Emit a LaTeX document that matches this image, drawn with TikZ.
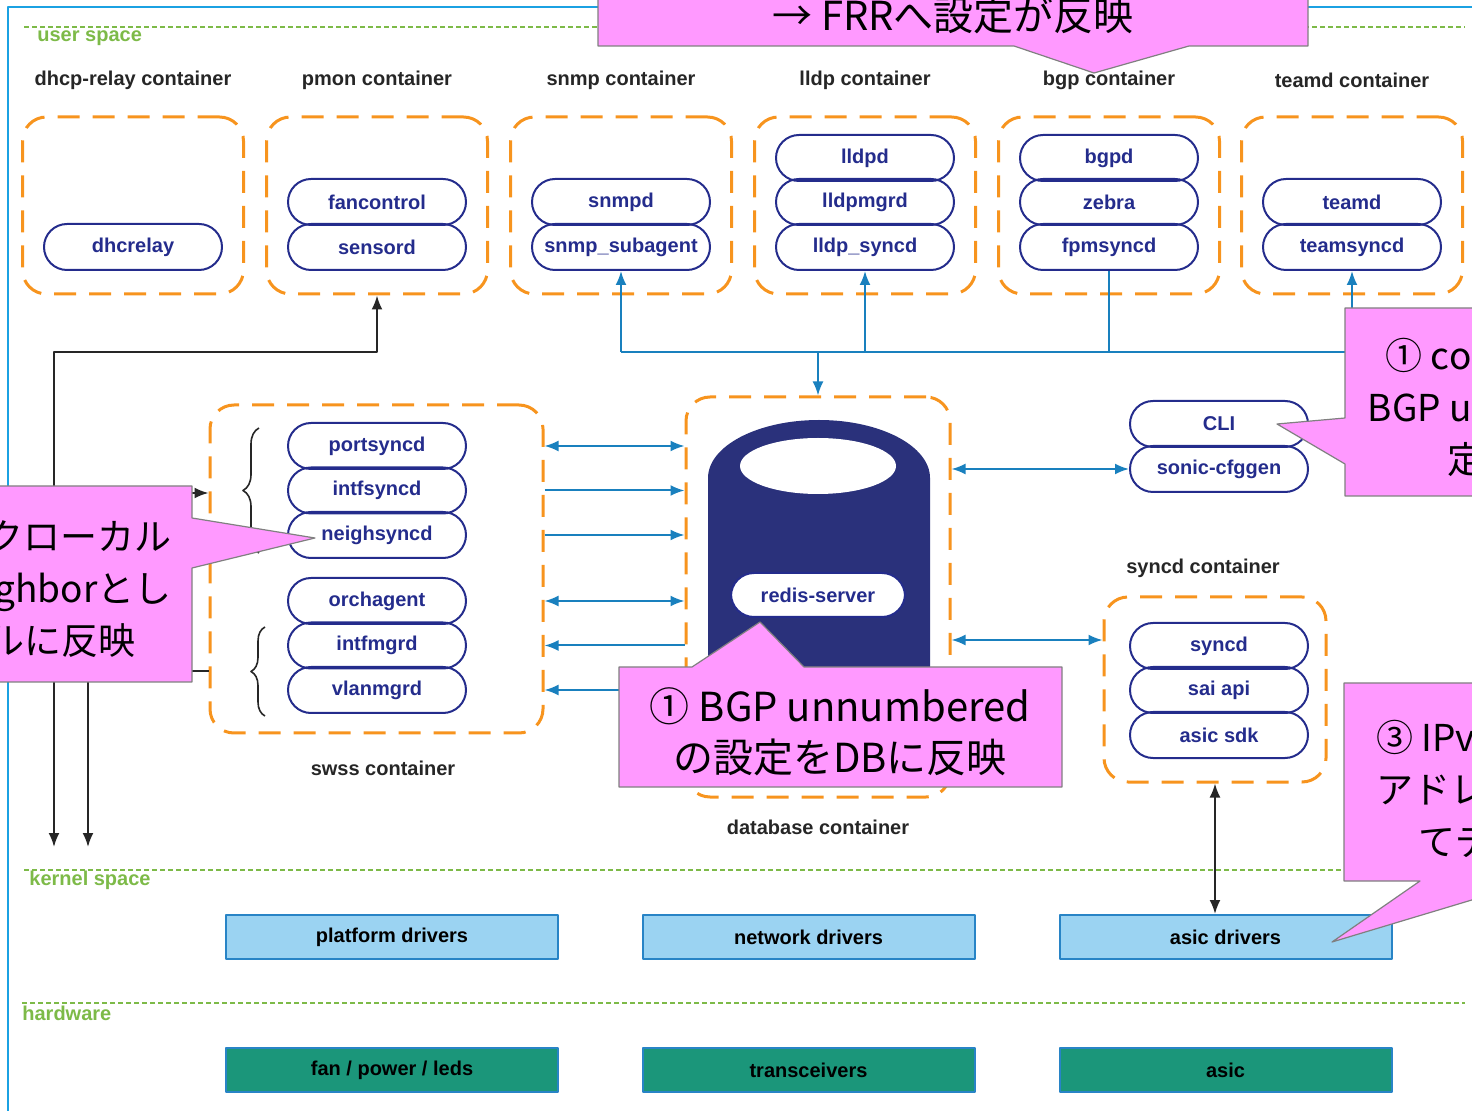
\documentclass[tikz,border=0pt]{standalone}
\usepackage{fontspec}
\setmainfont{Liberation Sans}
\newfontfamily\jpfont{Noto Sans CJK JP}
\usetikzlibrary{arrows.meta,decorations.pathreplacing}
\definecolor{frameblue}{RGB}{27,161,226}
\definecolor{layergreen}{RGB}{125,186,72}
\definecolor{boxorange}{RGB}{247,148,30}
\definecolor{pillnavy}{RGB}{36,44,140}
\definecolor{dbnavy}{RGB}{42,49,123}
\definecolor{linkblue}{RGB}{25,128,190}
\definecolor{drvfill}{RGB}{155,211,242}
\definecolor{drvline}{RGB}{40,132,198}
\definecolor{hwfill}{RGB}{27,150,122}
\definecolor{notepink}{RGB}{255,153,255}
\begin{document}
\begin{tikzpicture}[line join = round,>={Latex[length=7pt,width=5.5pt]},x = 0.5pt,y = -0.5pt,
	pill/.style={draw=pillnavy,line width=1pt,rounded corners=11.5pt,minimum width=89pt,minimum height=23pt,inner sep=0pt,text=pillnavy,font=\bfseries},
	cbox/.style={draw=boxorange,line width=1.5pt,dash pattern=on 11pt off 6.5pt,rounded corners=12pt},
	ctitle/.style={text=black!85,font=\bfseries},
	layer/.style={draw=layergreen,line width=1pt,dash pattern=on 2.5pt off 1.5pt},
	layertext/.style={text=layergreen,font=\bfseries,anchor=west,inner sep=0pt},
	drv/.style={draw=drvline,fill=drvfill,line width=1pt,minimum width=166pt,minimum height=22pt,font=\bfseries},
	hw/.style={draw=drvline,fill=hwfill,line width=1pt,minimum width=166pt,minimum height=22pt,font=\bfseries},
	link/.style={linkblue,line width=1pt},
	wire/.style={black!85,line width=1pt},
	callout/.style={fill=notepink,draw=black!50,line width=0.6pt},
	notetext/.style={font=\jpfont\fontsize{18.5}{26}\selectfont,align=center},
	bignote/.style={font=\jpfont\fontsize{20}{25.5}\selectfont,align=center}]
	\useasboundingbox (0,0) rectangle (1472,1111);
	\clip (0,0) rectangle (1472,1111);
	%Khung ngoài
	\draw[frameblue,line width=1pt] (8,1130)--(8,7)--(1500,7);
	%Các tầng
	\draw[layer] (24,27)--(1465,27);
	\node[layertext] (luser) at (37,38) {user space};
	\draw[layer] (24,870)--(1465,870);
	\node[layertext] (lkernel) at (29,880) {kernel space};
	\draw[layer] (22,1003)--(1465,1003);
	\node[layertext] (lhw) at (22,1013) {hardware};
	%Hàng container trên
	\foreach \cx/\nm/\ten in {133/dhcp/dhcp-relay container,377/pmon/pmon container,621/snmp/snmp container,865/lldp/lldp container,1109/bgp/bgp container,1352/teamd/teamd container}
	{\node[ctitle] (t\nm) at (\cx,80) {\ten};
	\node[cbox,minimum width=110.5pt,minimum height=88.5pt] (\nm) at (\cx,205.5) {};}
	\node[pill] (dhcrelay) at (133,247) {dhcrelay};
	\node[pill] (fancontrol) at (377,202) {fancontrol};
	\node[pill] (sensord) at (377,247) {sensord};
	\node[pill] (snmpd) at (621,202) {snmpd};
	\node[pill] (subagent) at (621,247) {snmp\_subagent};
	\node[pill] (lldpd) at (865,158) {lldpd};
	\node[pill] (lldpmgrd) at (865,202) {lldpmgrd};
	\node[pill] (lldpsyncd) at (865,247) {lldp\_syncd};
	\node[pill] (bgpd) at (1109,158) {bgpd};
	\node[pill] (zebra) at (1109,202) {zebra};
	\node[pill] (fpmsyncd) at (1109,247) {fpmsyncd};
	\node[pill] (teamdd) at (1352,202) {teamd};
	\node[pill] (teamsyncd) at (1352,247) {teamsyncd};
	%swss container
	\node[cbox,minimum width=166.5pt,minimum height=164pt] (swss) at (376.5,569) {};
	\node[ctitle] (tswss) at (383,768) {swss container};
	\foreach \y/\nm in {446/portsyncd,490.5/intfsyncd,535/neighsyncd,601/orchagent,645.5/intfmgrd,690/vlanmgrd}
	\node[pill] (\nm) at (377,\y) {\nm};
	\draw[wire,line width=0.8pt,decorate,decoration={brace,amplitude=8pt}] (259,553)--(259,428);
	\draw[wire,line width=0.8pt,decorate,decoration={brace,amplitude=7pt}] (265,716)--(265,627);
	%database container
	\node[cbox,minimum width=132pt,minimum height=200pt] (db) at (818,597) {};
	\node[ctitle] (tdb) at (818,827) {database container};
	\fill[dbnavy] (708,755)--(708,478) arc[start angle=180,end angle=0,x radius=55.5pt,y radius=29pt]--(930,755) arc[start angle=0,end angle=-180,x radius=55.5pt,y radius=10pt]--cycle;
	\fill[white] (818,466) ellipse[x radius=39pt,y radius=14pt];
	\node[pill,fill=white,minimum width=87pt,minimum height=22pt] (redis) at (818,595) {redis-server};
	%CLI
	\node[pill] (cli) at (1219,424) {CLI};
	\node[pill] (cfggen) at (1219,469) {sonic-cfggen};
	%syncd container
	\node[ctitle] (tsyncd) at (1203,568) {syncd container};
	\node[cbox,minimum width=111pt,minimum height=92.5pt] (syncdbox) at (1215,689.5) {};
	\node[pill] (syncd) at (1219,646) {syncd};
	\node[pill] (saiapi) at (1219,690) {sai api};
	\node[pill] (asicsdk) at (1219,735) {asic sdk};
	%kernel, hardware
	\foreach \x/\nm/\ten in {392/pdrv/platform drivers,808.5/ndrv/network drivers,1225.5/adrv/asic drivers}
	\node[drv] (\nm) at (\x,937) {\ten};
	\node[hw] (fan) at (392,1070) {fan / power / leds};
	\node[hw] (xcvr) at (808.5,1070) {transceivers};
	\node[hw] (asic) at (1225.5,1070) {asic};
	%Đường nối xanh
	\coordinate (bus) at (818,352);
	\draw[link] (subagent.south |- bus)--(teamsyncd.south |- bus);
	\draw[link,->] (subagent.south |- bus)--(subagent.south);
	\draw[link,->] (lldpsyncd.south |- bus)--(lldpsyncd.south);
	\draw[link] (fpmsyncd.south |- bus)--(fpmsyncd.south);
	\draw[link,->] (teamsyncd.south |- bus)--(teamsyncd.south);
	\draw[link,->] (bus)--(db.north);
	\draw[link,<->] (swss.east |- portsyncd)--(db.west |- portsyncd);
	\draw[link,->] (swss.east |- intfsyncd)--(db.west |- intfsyncd);
	\draw[link,->] (swss.east |- neighsyncd)--(db.west |- neighsyncd);
	\draw[link,<->] (swss.east |- orchagent)--(db.west |- orchagent);
	\draw[link,<-] (swss.east |- intfmgrd)--(db.west |- intfmgrd);
	\draw[link,<-] (swss.east |- vlanmgrd)--(db.west |- vlanmgrd);
	\draw[link,<->] (db.east |- cfggen)--(cfggen.west);
	\coordinate (jS) at (1000,640);
	\draw[link,<->] (db.east |- jS)--(syncdbox.west |- jS);
	%Đường nối đen
	\coordinate (kA) at (54,847);
	\coordinate (kB) at (88,847);
	\coordinate (jA) at (54,493);
	\coordinate (jB) at (88,671);
	\draw[wire,<->] (pmon.south) |- (kA |- bus)--(kA);
	\draw[wire,->] (jA)--(swss.west |- jA);
	\draw[wire,->] (swss.west |- jB) -| (kB);
	\draw[wire,<->] (syncdbox.south)--(syncdbox.south |- adrv.north);
	%Ghi chú
	\draw[callout] (598,-20)--(1308,-20)--(1308,46)--(1189,46)--(1094,73)--(1014,46)--(598,46)--cycle;
	\node[bignote] (nfrr) at (953,15) {→ FRRへ設定が反映};
	\draw[callout] (-270,486)--(192,486)--(192,518)--(315,538)--(192,568)--(192,682)--(-270,682)--cycle;
	\node[notetext] (nneigh) at (-36,588) {② IPv6のリンクローカル\\アドレスをneighborとし\\てDBテーブルに反映};
	\draw[callout] (619,667)--(692,667)--(760,622)--(804,667)--(1062,667)--(1062,787)--(619,787)--cycle;
	\node[bignote] (ndb) at (840,732) {① BGP unnumbered\\の設定をDBに反映};
	\draw[callout] (1345,308)--(1800,308)--(1800,496)--(1345,496)--(1345,464)--(1277,424)--(1345,418)--cycle;
	\node[notetext] (ncfg) at (1558,407) {① config コマンドで\\BGP unnumberedの設\\定を投入する};
	\draw[callout] (1344,683)--(1800,683)--(1800,881)--(1535,881)--(1332,942)--(1420,881)--(1344,881)--cycle;
	\node[notetext] (nasic) at (1584,789) {③ IPv6のリンクローカル\\アドレスをneighborとし\\てデバイスに反映。};
\end{tikzpicture}
\end{document}
